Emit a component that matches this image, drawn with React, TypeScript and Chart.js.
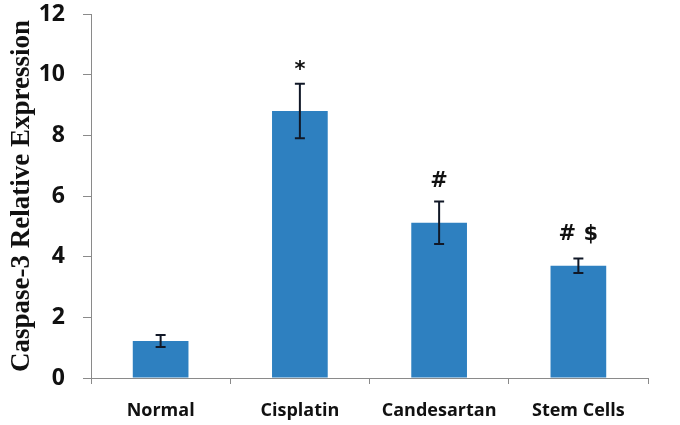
import React, { useEffect, useRef } from "react";
import { Chart, registerables } from "chart.js";

Chart.register(...registerables);

const categories = ["Normal", "Cisplatin", "Candesartan", "Stem Cells"];
const means = [1.22, 8.8, 5.12, 3.7];
const errors = [0.2, 0.9, 0.7, 0.24];
const marks = ["", "*", "#", "# $"];
const yTicks = [0, 2, 4, 6, 8, 10, 12];

const errorBarPlugin = {
  id: "errorBars",
  afterDatasetsDraw(chart: any) {
    const { ctx, scales } = chart;
    const meta = chart.getDatasetMeta(0);
    const y = scales.y;
    ctx.save();
    meta.data.forEach((bar: any, i: number) => {
      const x = bar.x;
      const top = y.getPixelForValue(means[i] + errors[i]);
      const bot = y.getPixelForValue(means[i] - errors[i]);
      ctx.strokeStyle = "#111827";
      ctx.lineWidth = 2;
      ctx.beginPath();
      ctx.moveTo(x, top);
      ctx.lineTo(x, bot);
      ctx.moveTo(x - 5, top);
      ctx.lineTo(x + 5, top);
      ctx.moveTo(x - 5, bot);
      ctx.lineTo(x + 5, bot);
      ctx.stroke();
      if (marks[i]) {
        ctx.font = "bold 21px 'DejaVu Sans'";
        ctx.fillStyle = "#111";
        ctx.textAlign = "center";
        ctx.textBaseline = "alphabetic";
        const m = ctx.measureText(marks[i]);
        ctx.fillText(marks[i], x, top - 14 - m.actualBoundingBoxDescent);
      }
    });
    ctx.restore();
  },
};

export default function App() {
  const ref = useRef<HTMLCanvasElement | null>(null);
  useEffect(() => {
    if (!ref.current) return;
    const chart = new Chart(ref.current, {
      type: "bar",
      data: {
        labels: categories,
        datasets: [
          {
            data: means,
            backgroundColor: "#2E80C0",
            barPercentage: 0.4,
            categoryPercentage: 1,
          },
        ],
      },
      options: {
        animation: false,
        responsive: true,
        maintainAspectRatio: false,
        layout: { padding: { top: 14, right: 32, bottom: 5, left: 6 } },
        plugins: { legend: { display: false }, tooltip: { enabled: false } },
        scales: {
          x: {
            afterFit: (axis: any) => {
              axis.height = 42;
              axis.paddingLeft = 0;
              axis.paddingRight = 0;
            },
            grid: {
              offset: true,
              drawOnChartArea: false,
              drawTicks: true,
              tickLength: 6,
              color: "#8a8a8a",
            },
            border: { display: true, color: "#8a8a8a", width: 1 },
            ticks: {
              color: "#111",
              font: { family: "'Open Sans'", weight: "bold", size: 18 },
              padding: 16,
              maxRotation: 0,
            },
          },
          y: {
            min: 0,
            max: 12,
            afterBuildTicks: (axis: any) => {
              axis.ticks = yTicks.map((v) => ({ value: v }));
            },
            afterFit: (axis: any) => {
              axis.paddingTop = 0;
              axis.paddingBottom = 0;
              axis.width = 85;
            },
            grid: {
              drawOnChartArea: false,
              drawTicks: true,
              tickLength: 8,
              color: "#8a8a8a",
            },
            border: { display: true, color: "#8a8a8a", width: 1 },
            ticks: {
              color: "#111",
              font: { family: "'Open Sans'", weight: "bold", size: 23 },
              padding: 18,
            },
            title: {
              display: true,
              text: "Caspase-3 Relative Expression",
              color: "#111",
              font: { family: "'Liberation Serif'", weight: "bold", size: 27 },
              padding: { top: 0, bottom: 0 },
            },
          },
        },
      },
      plugins: [errorBarPlugin],
    });
    return () => chart.destroy();
  }, []);
  return (
    <div style={{ position: "fixed", left: 0, top: 0, width: 680, height: 425, background: "#fff" }}>
      <canvas ref={ref} />
    </div>
  );
}
